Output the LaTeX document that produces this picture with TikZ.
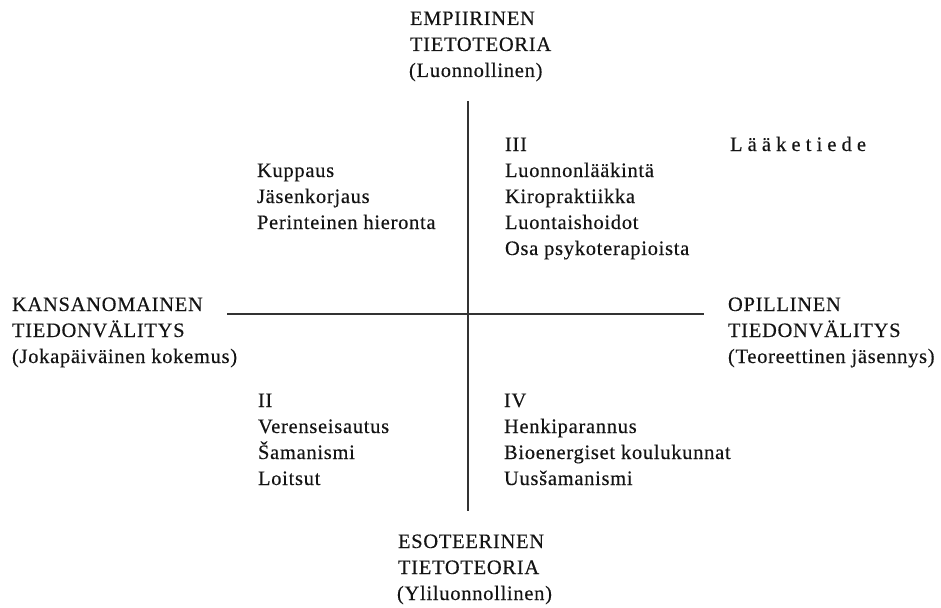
\documentclass[tikz,border=0pt]{standalone}
\usepackage{fontspec}
\setmainfont{Liberation Serif}[LetterSpace=3.5,FakeBold=0.35]
\newfontfamily\widefont{Liberation Serif}[LetterSpace=25,FakeBold=0.35]
\begin{document}
\begin{tikzpicture}[x=1pt,y=-1pt,
  txt/.style={anchor=base west,inner sep=0pt,outer sep=0pt,text=black!92,font=\fontsize{20.5}{26}\selectfont},
  axisline/.style={draw=black!80,line width=1.3pt}]
\useasboundingbox (0,0) rectangle (941,607);
% axes
\coordinate (vtop) at (468,101);
\coordinate (vbot) at (468,511);
\coordinate (hleft) at (227,314);
\coordinate (hright) at (704,314);
\draw[axisline] (vtop) -- (vbot);
\draw[axisline] (hleft) -- (hright);
% top pole
\node[txt] (t1) at (410,25) {EMPIIRINEN};
\node[txt] (t2) at (410,51) {TIETOTEORIA};
\node[txt] (t3) at (409,77) {(Luonnollinen)};
% bottom pole
\node[txt] (b1) at (398,548) {ESOTEERINEN};
\node[txt] (b2) at (398,574) {TIETOTEORIA};
\node[txt] (b3) at (397,600) {(Yliluonnollinen)};
% left pole
\node[txt] (l1) at (12,311) {KANSANOMAINEN};
\node[txt] (l2) at (12,337) {TIEDONVÄLITYS};
\node[txt] (l3) at (12,363) {(Jokapäiväinen kokemus)};
% right pole
\node[txt] (r1) at (728,311) {OPILLINEN};
\node[txt] (r2) at (728,337) {TIEDONVÄLITYS};
\node[txt] (r3) at (728,363) {(Teoreettinen jäsennys)};
% upper left quadrant
\node[txt] (ul1) at (257,177) {Kuppaus};
\node[txt] (ul2) at (257,203) {Jäsenkorjaus};
\node[txt] (ul3) at (257,229) {Perinteinen hieronta};
% upper right quadrant
\node[txt] (ur0) at (505,151) {III};
\node[txt] (ur1) at (505,177) {Luonnonlääkintä};
\node[txt] (ur2) at (505,203) {Kiropraktiikka};
\node[txt] (ur3) at (505,229) {Luontaishoidot};
\node[txt] (ur4) at (505,255) {Osa psykoterapioista};
\node[txt,font=\fontsize{20.5}{26}\widefont] (med) at (730,151) {Lääketiede};
% lower left quadrant
\node[txt] (ll0) at (258,407) {II};
\node[txt] (ll1) at (258,433) {Verenseisautus};
\node[txt] (ll2) at (258,459) {Šamanismi};
\node[txt] (ll3) at (258,485) {Loitsut};
% lower right quadrant
\node[txt] (lr0) at (504,407) {IV};
\node[txt] (lr1) at (504,433) {Henkiparannus};
\node[txt] (lr2) at (504,459) {Bioenergiset koulukunnat};
\node[txt] (lr3) at (504,485) {Uusšamanismi};
\end{tikzpicture}
\end{document}
